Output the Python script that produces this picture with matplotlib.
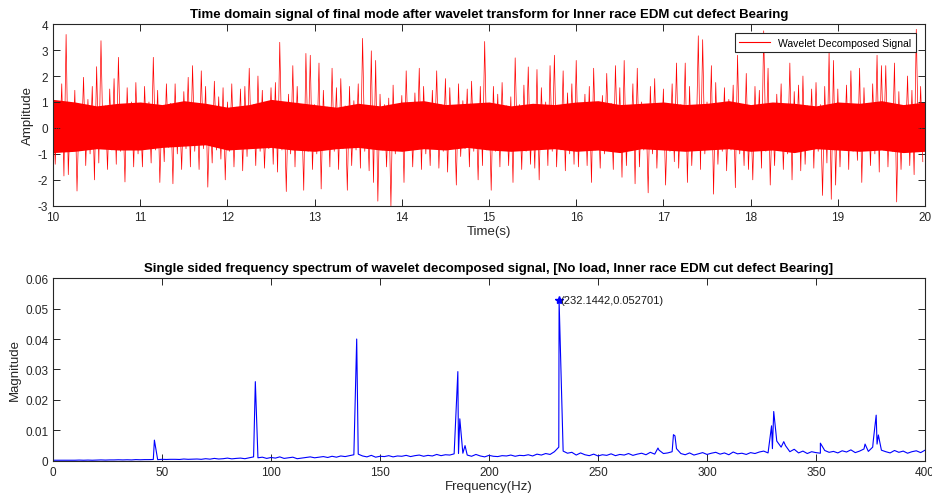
"""Wavelet decomposed bearing signal and its single sided spectrum."""

import numpy as np
import matplotlib
matplotlib.use('Agg')
import matplotlib.pyplot as plt


plt.rcParams['font.family'] = ['Liberation Sans', 'DejaVu Sans']
plt.rcParams['axes.unicode_minus'] = False

# Time-domain trace: positive and negative excursions, one of each per 50 ms
SIGNAL_START = 10.0
SIGNAL_STEP = 0.05
SIGNAL_HIGH = [
    1.5, 0.8, 1.7, 3.6, 0.9, 1.45, 0.75, 1.95, 1.1, 1.6, 2.36, 3.36, 0.85, 1.5, 1.9, 2.72, 0.8, 1.55, 1.0, 1.75,
    0.9, 1.6, 1.0, 2.72, 1.45, 0.8, 1.7, 0.95, 1.7, 0.85, 1.4, 1.95, 2.4, 0.9, 2.2, 1.6, 0.8, 1.8, 1.2, 1.55,
    1.0, 1.7, 0.8, 1.5, 1.6, 2.3, 0.9, 2.0, 1.45, 0.75, 1.55, 1.75, 3.3, 0.9, 1.3, 2.4, 1.6, 0.85, 2.87, 2.8,
    0.9, 2.5, 1.45, 0.8, 2.3, 1.55, 1.9, 0.85, 1.6, 1.05, 1.7, 3.45, 0.8, 2.97, 2.6, 1.3, 0.9, 1.15, 1.65, 0.8,
    1.25, 2.2, 0.85, 1.35, 2.3, 1.6, 0.8, 1.45, 2.2, 0.9, 1.9, 1.55, 0.8, 1.7, 1.05, 1.5, 1.8, 0.85, 1.6, 3.33,
    0.9, 1.6, 1.3, 1.75, 0.85, 1.2, 2.7, 0.9, 1.65, 2.35, 0.8, 2.25, 1.55, 1.0, 2.4, 2.8, 0.85, 2.2, 1.35, 1.7,
    2.6, 0.9, 1.3, 1.6, 2.3, 0.8, 1.25, 2.1, 0.95, 2.4, 1.55, 2.6, 0.85, 1.7, 2.3, 1.0, 0.8, 1.6, 1.9, 0.9,
    1.5, 0.85, 1.7, 2.5, 0.9, 2.5, 1.6, 0.8, 3.55, 3.4, 1.0, 2.4, 1.75, 0.85, 1.55, 1.1, 1.65, 2.8, 0.9, 2.1,
    0.85, 1.6, 1.45, 3.74, 2.3, 0.9, 1.3, 1.7, 0.8, 2.5, 1.4, 1.65, 2.0, 0.85, 1.5, 1.75, 0.9, 1.6, 2.95, 2.6,
    1.5, 0.85, 1.65, 2.2, 0.9, 2.3, 1.55, 0.8, 1.7, 2.8, 2.4, 2.4, 0.95, 2.5, 1.4, 0.85, 2.0, 1.45, 3.8, 1.6,
]
SIGNAL_LOW = [
    -1.4, -0.8, -1.85, -1.8, -0.9, -2.43, -0.75, -1.45, -1.0, -2.0, -1.35, -0.8, -1.6, -0.85, -1.4, -0.9, -2.08, -0.75, -1.5, -1.0,
    -1.5, -0.8, -1.35, -0.85, -2.1, -1.3, -0.75, -2.15, -1.0, -1.6, -0.8, -1.5, -0.9, -1.6, -0.8, -2.28, -1.35, -0.85, -1.2, -2.0,
    -0.9, -1.5, -0.8, -1.65, -1.1, -0.75, -1.45, -0.9, -1.55, -0.8, -1.4, -1.7, -0.85, -2.45, -1.0, -1.5, -0.8, -2.4, -0.9, -1.6,
    -1.0, -2.35, -0.8, -1.5, -0.9, -1.6, -0.8, -2.4, -1.45, -0.85, -1.55, -0.9, -1.65, -2.1, -2.82, -0.85, -1.5, -3.0, -1.0, -0.8,
    -2.1, -0.85, -1.5, -0.8, -1.6, -1.0, -1.45, -0.8, -1.55, -0.9, -1.7, -0.8, -2.2, -1.1, -0.8, -1.5, -0.9, -2.0, -1.45, -0.85,
    -2.4, -0.9, -1.5, -0.8, -1.45, -2.1, -0.85, -1.6, -0.9, -1.4, -1.55, -2.0, -0.8, -1.45, -0.9, -1.5, -0.85, -1.65, -1.0, -1.4,
    -1.5, -0.8, -1.45, -2.1, -0.85, -1.55, -1.0, -0.8, -1.6, -0.9, -1.9, -1.45, -0.8, -2.15, -1.5, -0.85, -2.5, -1.0, -1.55, -0.8,
    -2.2, -0.9, -1.3, -1.55, -0.8, -2.1, -1.45, -0.85, -1.6, -1.0, -0.8, -2.55, -1.4, -0.9, -1.65, -0.85, -2.3, -1.0, -1.45, -1.6,
    -2.0, -0.85, -1.55, -0.9, -2.2, -1.45, -0.8, -1.6, -1.0, -2.0, -0.85, -1.65, -1.4, -0.8, -1.55, -0.9, -2.6, -1.35, -2.75, -2.2,
    -1.5, -0.85, -1.6, -0.9, -1.25, -2.1, -0.8, -1.45, -1.0, -1.7, -0.85, -1.5, -0.9, -2.85, -1.6, -0.8, -1.45, -1.8, -0.9, -1.3,
]

# Dense core of the trace, sampled every 0.25 s
CORE_START = 10.0
CORE_STEP = 0.25
CORE_HIGH = [1.1, 1.0, 0.85, 0.95, 1.0, 0.9, 1.05, 0.95, 0.8, 0.9, 1.1,
             1.0, 0.9, 0.8, 0.95, 0.85, 1.0, 1.05, 0.9, 0.95, 1.0,
             0.85, 0.95, 0.9, 1.0, 1.05, 0.9, 0.95, 1.0, 0.9, 0.95,
             1.05, 0.9, 1.0, 0.95, 0.85, 1.0, 0.95, 1.05, 0.9, 1.0]
CORE_LOW = [-0.95, -0.9, -0.8, -0.85, -0.85, -0.75, -0.7, -0.65, -0.85, -0.8, -0.75,
            -0.85, -0.9, -0.8, -0.75, -0.85, -0.9, -0.8, -0.85, -0.75, -0.85,
            -0.9, -0.85, -0.8, -0.9, -0.85, -0.95, -0.8, -0.85, -0.9, -0.85,
            -0.8, -0.9, -0.85, -0.95, -0.8, -0.85, -0.9, -0.85, -0.95, -0.9]

# Spectrum noise floor every 2 Hz, in units of 1e-3
FLOOR_START = 0.0
FLOOR_STEP = 2.0
FLOOR_MAG = [
    0.2, 0.2, 0.2, 0.2, 0.2, 0.2, 0.25, 0.2, 0.25, 0.2, 0.25, 0.3, 0.25, 0.3, 0.3, 0.35, 0.3, 0.35, 0.3, 0.4, 0.35, 0.4, 0.4,
    0.45, 0.4, 0.5, 0.45, 0.5, 0.5, 0.45, 0.6, 0.5, 0.55, 0.6, 0.5, 0.7, 0.55, 0.8, 0.6, 0.7, 0.9, 0.65, 0.8, 0.9, 0.7, 1.0,
    1.3, 1.0, 1.2, 0.8, 1.1, 0.9, 1.3, 0.8, 1.0, 1.2, 0.7, 0.9, 1.1, 1.3, 1.0, 1.2, 1.4, 1.1, 1.5, 1.2, 1.6, 1.4, 1.7, 2.0,
    2.2, 1.6, 1.3, 1.8, 1.2, 1.5, 1.4, 1.7, 1.3, 1.6, 1.5, 1.8, 1.4, 1.7, 1.9, 1.5, 1.8, 1.6, 2.1, 1.7, 2.0, 1.9, 2.3, 2.4,
    2.5, 1.9, 1.5, 2.1, 1.6, 1.3, 1.8, 1.5, 1.4, 1.7, 1.6, 1.9, 1.5, 1.8, 1.7, 2.0, 1.6, 2.2, 1.9, 2.4, 2.1, 3.0, 4.5, 3.2,
    2.5, 2.8, 1.9, 2.6, 2.0, 1.7, 2.2, 1.6, 2.0, 1.8, 2.3, 1.7, 2.1, 1.9, 2.4, 1.8, 2.2, 2.5, 2.0, 2.8, 2.2, 3.5, 2.4, 2.6,
    3.0, 4.0, 2.4, 2.0, 2.6, 1.9, 2.3, 2.7, 2.1, 2.5, 2.8, 2.2, 2.6, 2.0, 2.9, 2.3, 2.5, 2.1, 2.7, 2.4, 2.9, 3.2, 2.6, 4.0,
    6.5, 4.5, 5.0, 3.0, 3.8, 2.6, 3.2, 2.4, 3.0, 2.7, 2.5, 3.4, 2.8, 3.1, 2.6, 3.3, 2.9, 3.6, 2.7, 3.2, 3.9, 3.1, 4.5, 5.5,
    3.5, 3.0, 2.6, 3.4, 2.8, 3.2, 2.5, 3.0, 3.3, 2.7, 3.5,
]

# Spectral peaks (Hz, 1e-3)
PEAK_FREQ = [46.5, 92.8, 139.3, 185.7, 186.6, 189.0, 232.1442, 277.5, 284.6,
             285.3, 329.6, 330.6, 335.2, 352.0, 372.5, 376.3, 377.6, 378.6]
PEAK_MAG = [6.8, 26.0, 40.0, 29.3, 13.8, 5.0, 52.701, 4.2, 8.6,
            8.2, 11.5, 16.2, 6.3, 5.8, 5.5, 6.8, 15.0, 8.5]

MARKED_FREQ = 232.1442
MARKED_MAG = 0.052701

MAG_TICKS = [0.0, 0.01, 0.02, 0.03, 0.04, 0.05, 0.06]
MAG_TICK_LABELS = ['0', '0.01', '0.02', '0.03', '0.04', '0.05', '0.06']

AXIS_COLOR = '#262626'


def style_axes(ax):
    """Boxed axes with inward ticks on all sides."""
    for spine in ax.spines.values():
        spine.set_color(AXIS_COLOR)
        spine.set_linewidth(0.8)
    ax.tick_params(direction='in', top=True, right=True, length=5,
                   width=0.7, colors=AXIS_COLOR, labelsize=8.5)


def build_trace():
    """Interleave highs and lows into one continuous trace."""
    high = np.asarray(SIGNAL_HIGH)
    low = np.asarray(SIGNAL_LOW)
    t_high = SIGNAL_START + SIGNAL_STEP * np.arange(len(high))
    t_low = t_high + SIGNAL_STEP / 2
    times = np.empty(2 * len(high))
    values = np.empty(2 * len(high))
    times[0::2], times[1::2] = t_high, t_low
    values[0::2], values[1::2] = high, low
    return times, values


def build_spectrum():
    """Merge the noise floor and the peaks into one sorted spectrum."""
    floor = np.asarray(FLOOR_MAG)
    freq = np.concatenate([FLOOR_START + FLOOR_STEP * np.arange(len(floor)),
                           PEAK_FREQ])
    mag = np.concatenate([floor, PEAK_MAG]) * 1e-3
    order = np.argsort(freq)
    return freq[order], mag[order]


fig = plt.figure(figsize=(9.32, 5.02), dpi=100)
ax_time = fig.add_axes([0.0569, 0.588, 0.9356, 0.362])
ax_freq = fig.add_axes([0.0569, 0.080, 0.9356, 0.364])

times, values = build_trace()
core_time = CORE_START + CORE_STEP * np.arange(len(CORE_HIGH))
ax_time.fill_between(core_time, CORE_LOW, CORE_HIGH, color='#ff0000',
                     linewidth=0)
ax_time.plot(times, values, color='#ff0000', linewidth=0.5,
             label='Wavelet Decomposed Signal')
ax_time.set_xlim(10, 20)
ax_time.set_ylim(-3, 4)
ax_time.set_xticks(range(10, 21))
ax_time.set_yticks(range(-3, 5))
ax_time.set_xlabel('Time(s)', fontsize=9.5, color=AXIS_COLOR, labelpad=2)
ax_time.set_ylabel('Amplitude', fontsize=9.5, color=AXIS_COLOR, labelpad=3)
ax_time.set_title('Time domain signal of final mode after wavelet transform '
                  'for Inner race EDM cut defect Bearing',
                  fontsize=9.5, fontweight='bold', pad=5)
legend = ax_time.legend(loc='upper right', fontsize=7.5, fancybox=False,
                        framealpha=1, edgecolor=AXIS_COLOR,
                        borderaxespad=0.9, handlelength=3.0)
legend.get_frame().set_linewidth(0.8)
for handle in legend.get_lines():
    handle.set_linewidth(0.8)
style_axes(ax_time)

freq, mag = build_spectrum()
ax_freq.plot(freq, mag, color='#0000ff', linewidth=0.8)
ax_freq.plot([MARKED_FREQ], [MARKED_MAG], marker='*', color='#0000ff',
             markersize=6, linestyle='none')
ax_freq.annotate(f'({MARKED_FREQ},{MARKED_MAG})',
                 xy=(MARKED_FREQ, MARKED_MAG), xytext=(1, 0),
                 textcoords='offset points', fontsize=8,
                 va='center', ha='left', color='#1a1a1a')
ax_freq.set_xlim(0, 400)
ax_freq.set_ylim(0, 0.06)
ax_freq.set_xticks(range(0, 401, 50))
ax_freq.set_yticks(MAG_TICKS)
ax_freq.set_yticklabels(MAG_TICK_LABELS)
ax_freq.set_xlabel('Frequency(Hz)', fontsize=9.5, color=AXIS_COLOR,
                   labelpad=2)
ax_freq.set_ylabel('Magnitude', fontsize=9.5, color=AXIS_COLOR, labelpad=3)
ax_freq.set_title('Single sided frequency spectrum of wavelet decomposed '
                  'signal, [No load, Inner race EDM cut defect Bearing]',
                  fontsize=9.5, fontweight='bold', pad=5)
style_axes(ax_freq)

fig.savefig('out.png', dpi=100)
